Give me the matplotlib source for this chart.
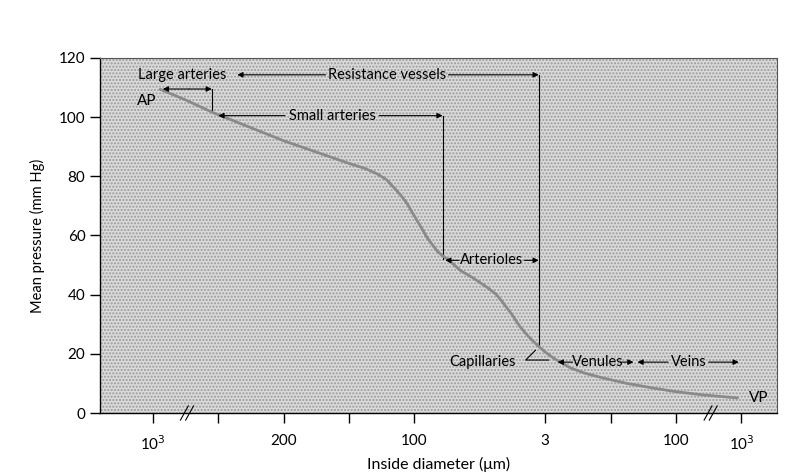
import matplotlib
matplotlib.use("Agg")
import matplotlib.pyplot as plt
from matplotlib.patches import Rectangle

plt.rcParams['font.family'] = ['Lato', 'DejaVu Sans']

# Curve (position along the vascular tree, mean pressure mm Hg)
curve_x = [0.11, 0.5, 0.92, 1.49, 2.0, 2.51, 3.02, 3.25, 3.43, 3.57, 3.68, 3.79, 3.89,
           4.04, 4.19, 4.34, 4.42, 4.5, 4.6, 4.7, 4.9, 5.11, 5.25, 5.36, 5.5, 5.62,
           5.75, 5.88, 6.0, 6.13, 6.39, 6.6, 6.89, 7.25, 7.66, 8.0, 8.42, 8.94]
curve_y = [109.4, 105.8, 101.5, 96.5, 92.0, 88.1, 84.2, 82.6, 80.8, 78.9, 76.3, 73.6, 70.7,
           65.0, 59.4, 54.9, 53.3, 52.1, 50.2, 48.2, 45.6, 42.5, 40.1, 37.1, 33.0, 29.0,
           25.7, 22.9, 20.6, 18.5, 15.2, 13.5, 11.8, 10.0, 8.4, 7.2, 6.1, 5.1]

tick_pos = [0, 1, 2, 3, 4, 6, 7, 8, 9]
label_pos = [0, 2, 4, 6, 8, 9]
label_txt = ['10$^3$', '200', '100', '3', '100', '10$^3$']
y_ticks = [0, 20, 40, 60, 80, 100, 120]

fig = plt.figure(figsize=(7.94, 4.75), dpi=100)
ax = fig.add_axes([0.126, 0.1305, 0.853, 0.7475])
ax.set_xlim(-0.81, 9.55)
ax.set_ylim(0, 120)
ax.set_facecolor('#dadada')
ax.add_patch(Rectangle((0, 0), 1, 1, transform=ax.transAxes, facecolor='none',
                       edgecolor='#9a9a9a', hatch='.....', linewidth=0, zorder=0))

ax.plot(curve_x, curve_y, color='#8a8a8a', lw=2, zorder=3,
        solid_capstyle='round', solid_joinstyle='round')

ax.set_xticks(tick_pos)
ax.set_xticklabels(['' if p not in label_pos else label_txt[label_pos.index(p)] for p in tick_pos],
                   fontsize=11)
ax.set_yticks(y_ticks)
ax.tick_params(axis='y', labelsize=11, length=7, width=1, direction='out')
ax.tick_params(axis='x', length=7, width=1, direction='out', pad=8)
for s in ['top', 'right']:
    ax.spines[s].set_color('#555555')
    ax.spines[s].set_linewidth(0.8)
for s in ['left', 'bottom']:
    ax.spines[s].set_linewidth(1)

ax.set_ylabel('Mean pressure (mm Hg)', fontsize=10.5, labelpad=10)
ax.set_xlabel('Inside diameter (μm)', fontsize=11.5, labelpad=3)

fs = 10.5
ap = dict(arrowstyle='-|>', color='black', lw=0.8, mutation_scale=8, shrinkA=0, shrinkB=0)

def arrow(x0, y0, x1, y1):
    ax.annotate('', xy=(x1, y1), xytext=(x0, y0), arrowprops=ap, zorder=5)

# Top row
ax.text(0.45, 114.3, 'Large arteries', fontsize=fs, ha='center', va='center')
ax.text(3.58, 114.3, 'Resistance vessels', fontsize=fs, ha='center', va='center')
arrow(2.64, 114.3, 1.29, 114.3)
arrow(4.52, 114.3, 5.90, 114.3)
ax.plot([5.91, 5.91], [114.3, 22.2], color='black', lw=0.8)

# Large arteries bracket
arrow(0.55, 109.5, 0.15, 109.5)
arrow(0.55, 109.5, 0.90, 109.5)
ax.plot([0.90, 0.90], [109.5, 101.8], color='black', lw=0.8)

# Small arteries
ax.text(2.74, 100.5, 'Small arteries', fontsize=fs, ha='center', va='center')
arrow(2.02, 100.5, 1.0, 100.5)
arrow(3.46, 100.5, 4.43, 100.5)
ax.plot([4.44, 4.44], [100.5, 52.0], color='black', lw=0.8)

# Arterioles
ax.text(5.18, 51.6, 'Arterioles', fontsize=fs, ha='center', va='center')
arrow(4.68, 51.6, 4.47, 51.6)
arrow(5.68, 51.6, 5.90, 51.6)

# Capillaries
ax.text(5.04, 17.2, 'Capillaries', fontsize=fs, ha='center', va='center')
ax.plot([6.05, 5.70, 5.85], [17.9, 17.9, 21.2], color='black', lw=0.8)

# Venules / Veins
ax.text(6.80, 17.2, 'Venules', fontsize=fs, ha='center', va='center')
arrow(6.42, 17.2, 6.19, 17.2)
arrow(7.15, 17.2, 7.35, 17.2)
ax.text(8.19, 17.2, 'Veins', fontsize=fs, ha='center', va='center')
arrow(7.88, 17.2, 7.41, 17.2)
arrow(8.50, 17.2, 8.96, 17.2)

# End labels
ax.text(-0.09, 105.5, 'AP', fontsize=fs + 0.5, ha='center', va='center')
ax.text(9.27, 5.1, 'VP', fontsize=fs + 0.5, ha='center', va='center')

# Axis break marks
for bx in [0.52, 8.53]:
    for dx in [-0.04, 0.04]:
        ax.plot([bx + dx - 0.06, bx + dx + 0.06], [-2.4, 2.4], color='black', lw=0.8,
                clip_on=False, zorder=6)

fig.savefig('out.png', dpi=100)
